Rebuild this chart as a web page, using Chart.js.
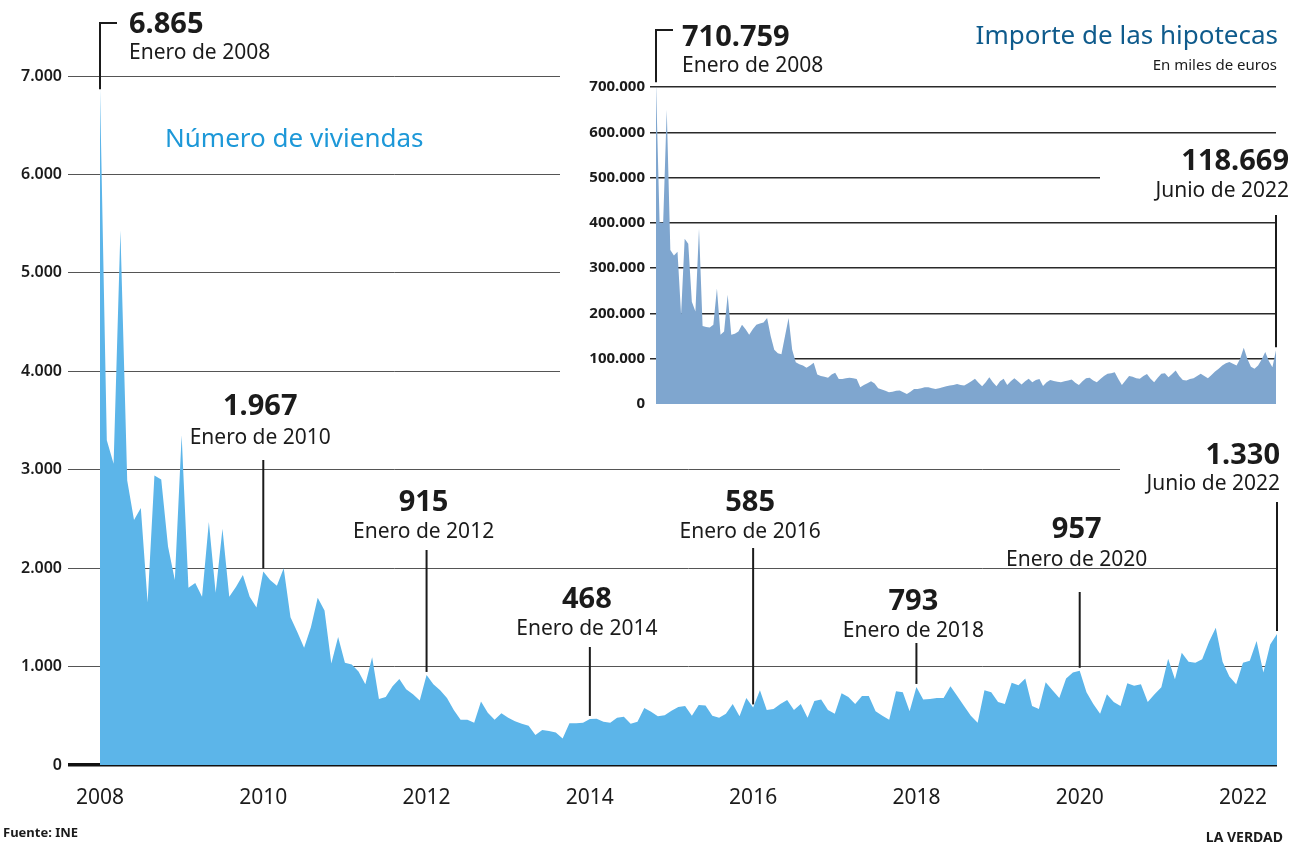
<!DOCTYPE html>
<html lang="es">
<head>
<meta charset="utf-8">
<title>Hipotecas sobre viviendas</title>
<script src="https://cdn.jsdelivr.net/npm/chart.js@4.4.1/dist/chart.umd.min.js"></script>
<style>
  html, body { margin: 0; padding: 0; background: #fff; }
  #wrap { position: relative; width: 1304px; height: 848px; overflow: hidden; }
  #mainChart { position: absolute; left: 0; top: 0; }
  #insetChart { position: absolute; left: 560px; top: 0; background: #fff; }
</style>
</head>
<body>
<div id="wrap">
  <canvas id="mainChart" width="1304" height="848"></canvas>
  <canvas id="insetChart" width="744" height="440"></canvas>
</div>
<script>
// Numero de hipotecas sobre viviendas, enero 2008 - junio 2022 (mensual)
const viviendas = [
  6865, 3300, 3060, 5430, 2890, 2490, 2610, 1650, 2940, 2900, 2220, 1880,
  3350, 1800, 1850, 1710, 2470, 1750, 2400, 1710, 1810, 1930, 1710, 1600,
  1967, 1880, 1820, 2000, 1500, 1350, 1190, 1400, 1700, 1570, 1030, 1300,
  1040, 1020, 950, 820, 1095, 670, 690, 800, 875, 770, 720, 655,
  915, 820, 760, 680, 560, 460, 460, 430, 645, 530, 460, 525,
  480, 445, 420, 400, 305, 355, 345, 330, 270, 425, 425, 430,
  468, 470, 440, 430, 480, 490, 420, 440, 580, 540, 495, 505,
  550, 590, 600, 500, 610, 605, 500, 480, 520, 620, 495, 680,
  585, 760, 560, 570, 620, 660, 560, 620, 480, 650, 665, 560,
  520, 730, 690, 620, 700, 700, 545, 500, 460, 750, 740, 545,
  793, 665, 670, 680, 680, 800, 700, 600, 500, 430, 760, 740,
  640, 620, 835, 810, 880, 600, 570, 840, 760, 680, 880, 940,
  957, 740, 620, 520, 720, 640, 600, 830, 805, 820, 640, 720,
  790, 1080, 870, 1140, 1050, 1040, 1075, 1250, 1395, 1050, 900, 820,
  1040, 1060, 1260, 940, 1225, 1330
];

// Importe de las hipotecas, en miles de euros
const importe = [
  710759, 401000, 400000, 650000, 340000, 328000, 336000, 197000, 365000, 354000, 226000, 204000,
  387000, 172000, 170000, 169000, 175000, 255000, 153000, 160000, 241000, 153000, 155000, 160000,
  175000, 165000, 153000, 165000, 175000, 178000, 180000, 190000, 150000, 120000, 112000, 110000,
  150000, 190000, 120000, 92000, 88000, 85000, 80000, 85000, 91000, 65000, 62000, 60000,
  58000, 65000, 69000, 55000, 55000, 57000, 58000, 57000, 55000, 37000, 42000, 46000,
  50000, 45000, 35000, 32000, 29000, 26000, 27000, 29000, 30000, 26000, 22000, 27000,
  33000, 33000, 35000, 37000, 37000, 35000, 33000, 35000, 37000, 39000, 41000, 42000,
  44000, 42000, 41000, 45000, 50000, 56000, 47000, 39000, 48000, 59000, 48000, 39000,
  50000, 56000, 42000, 50000, 57000, 50000, 43000, 50000, 56000, 48000, 53000, 55000,
  40000, 48000, 53000, 51000, 49000, 48000, 50000, 52000, 54000, 47000, 42000, 50000,
  57000, 58000, 52000, 48000, 55000, 62000, 67000, 68000, 70000, 55000, 42000, 52000,
  62000, 60000, 57000, 56000, 62000, 66000, 56000, 48000, 58000, 67000, 68000, 59000,
  66000, 74000, 62000, 53000, 52000, 55000, 57000, 62000, 67000, 62000, 57000, 64000,
  72000, 78000, 85000, 90000, 93000, 89000, 85000, 100000, 124000, 100000, 82000, 78000,
  85000, 98000, 115000, 95000, 81000, 118669
];

const monthNames = ["Enero", "Febrero", "Marzo", "Abril", "Mayo", "Junio", "Julio",
  "Agosto", "Septiembre", "Octubre", "Noviembre", "Diciembre"];
const firstYear = 2008;
const yearTickMonths = [0, 24, 48, 72, 96, 120, 144, 168];
const yearLabels = ["2008", "2010", "2012", "2014", "2016", "2018", "2020", "2022"];

// months that carry a callout
const mainNoteMonths = [0, 24, 48, 72, 96, 120, 144, 173];
const insetNoteMonths = [0, 173];

// callout layout (pixels), one entry per note
const mainNoteStyle = [
  { kind: "bracket", hookY: 23, numY: 25, dateY: 53 },
  { kind: "center", lineTop: 460, numY: 407, dateY: 438 },
  { kind: "center", lineTop: 550, numY: 503, dateY: 532 },
  { kind: "center", lineTop: 647, numY: 600, dateY: 629 },
  { kind: "center", lineTop: 548, numY: 503, dateY: 532 },
  { kind: "center", lineTop: 643, numY: 602, dateY: 631 },
  { kind: "center", lineTop: 592, numY: 530, dateY: 560 },
  { kind: "right", lineTop: 502, numY: 456, dateY: 484, dx: 3, box: [1120, 440, 1304, 497] },
];
const insetNoteStyle = [
  { kind: "bracket", hookY: 30, numY: 38, dateY: 66, textDx: 26 },
  { kind: "right", lineTop: 215, numY: 162, dateY: 191, dx: 13, box: [540, 146, 744, 205] },
];

const FONT = "'Noto Sans', 'Open Sans', sans-serif";
const INK = "#1b1b1b";

function fmt(n) {
  return String(Math.round(n)).replace(/\B(?=(\d{3})+(?!\d))/g, ".");
}

function dateLabel(m) {
  return monthNames[m % 12] + " de " + (firstYear + Math.floor(m / 12));
}

// draws the value callouts (number + date + leader line)
function drawNotes(chart, months, styles, values) {
  const { ctx } = chart;
  const x = chart.scales.x;
  const y = chart.scales.y;
  months.forEach((m, i) => {
    const s = styles[i];
    const px = x.getPixelForValue(m);
    const py = y.getPixelForValue(values[m]);
    ctx.save();
    if (s.box) {
      ctx.fillStyle = "#fff";
      ctx.fillRect(s.box[0], s.box[1], s.box[2] - s.box[0], s.box[3] - s.box[1]);
    }
    ctx.strokeStyle = INK;
    ctx.lineWidth = 2;
    ctx.beginPath();
    let tx, align;
    if (s.kind === "bracket") {
      ctx.moveTo(px, py);
      ctx.lineTo(px, s.hookY);
      ctx.lineTo(px + 17, s.hookY);
      tx = px + (s.textDx || 29);
      align = "left";
    } else if (s.kind === "center") {
      ctx.moveTo(px, s.lineTop);
      ctx.lineTo(px, py - 3);
      tx = px - 3;
      align = "center";
    } else {
      ctx.moveTo(px, s.lineTop);
      ctx.lineTo(px, py - 3);
      tx = px + s.dx;
      align = "right";
    }
    ctx.stroke();
    ctx.fillStyle = INK;
    ctx.textAlign = align;
    ctx.textBaseline = "middle";
    ctx.font = "bold 29px " + FONT;
    ctx.fillText(fmt(values[m]), tx, s.numY);
    ctx.font = "21px " + FONT;
    ctx.fillText(dateLabel(m), tx, s.dateY);
    ctx.restore();
  });
}

const mainPlugin = {
  id: "mainText",
  afterDraw(chart) {
    drawNotes(chart, mainNoteMonths, mainNoteStyle, viviendas);
    const ctx = chart.ctx;
    ctx.save();
    ctx.textBaseline = "middle";
    ctx.fillStyle = "#1d98d8";
    ctx.font = "26px " + FONT;
    ctx.textAlign = "left";
    ctx.fillText("Número de viviendas", 165, 140);
    ctx.fillStyle = INK;
    ctx.font = "bold 13px " + FONT;
    ctx.fillText("Fuente: INE", 3, 833);
    ctx.textAlign = "right";
    ctx.font = "bold 14px " + FONT;
    ctx.fillText("LA VERDAD", 1283, 838);
    ctx.restore();
  },
};

const insetPlugin = {
  id: "insetText",
  afterDraw(chart) {
    drawNotes(chart, insetNoteMonths, insetNoteStyle, importe);
    const ctx = chart.ctx;
    ctx.save();
    ctx.textBaseline = "middle";
    ctx.textAlign = "right";
    ctx.fillStyle = "#0f5b8c";
    ctx.font = "26px " + FONT;
    ctx.fillText("Importe de las hipotecas", 718, 37);
    ctx.fillStyle = INK;
    ctx.font = "15px " + FONT;
    ctx.fillText("En miles de euros", 717, 66);
    ctx.restore();
  },
};

const monthIndex = viviendas.map((_, i) => i);

new Chart(document.getElementById("mainChart"), {
  type: "line",
  data: {
    datasets: [{
      data: monthIndex.map((m) => ({ x: m, y: viviendas[m] })),
      fill: "origin",
      backgroundColor: "#5cb5e9",
      borderWidth: 0,
      borderColor: "rgba(0,0,0,0)",
      pointRadius: 0,
      tension: 0,
    }],
  },
  options: {
    responsive: false,
    animation: false,
    devicePixelRatio: 1,
    layout: { padding: { top: 76, right: 27, bottom: 0, left: 0 } },
    plugins: { legend: { display: false }, tooltip: { enabled: false } },
    scales: {
      x: {
        type: "linear",
        min: 0,
        max: viviendas.length - 1,
        afterBuildTicks: (scale) => {
          scale.ticks = yearTickMonths.map((v) => ({ value: v }));
        },
        afterFit: (scale) => { scale.height = 83; },
        grid: { display: false, drawTicks: false },
        border: { display: false },
        ticks: {
          autoSkip: false,
          maxRotation: 0,
          padding: 20,
          color: INK,
          font: { family: FONT, size: 21 },
          callback: (v) => yearLabels[yearTickMonths.indexOf(v)],
        },
      },
      y: {
        min: 0,
        max: 7000,
        z: 1,
        afterFit: (scale) => { scale.width = 100; },
        border: { display: false },
        grid: {
          color: (c) => (c.tick && c.tick.value === 0 ? "#111" : "#555"),
          lineWidth: (c) => (c.tick && c.tick.value === 0 ? 3.5 : 1),
          tickLength: 32,
        },
        ticks: {
          stepSize: 1000,
          padding: 6,
          color: INK,
          font: { family: FONT, size: 16, weight: "600" },
          callback: (v) => fmt(v),
        },
      },
    },
  },
  plugins: [mainPlugin],
});

new Chart(document.getElementById("insetChart"), {
  type: "line",
  data: {
    datasets: [{
      data: monthIndex.map((m) => ({ x: m, y: importe[m] })),
      fill: "origin",
      backgroundColor: "#7fa6cf",
      borderWidth: 0,
      borderColor: "rgba(0,0,0,0)",
      pointRadius: 0,
      tension: 0,
      clip: false,
    }],
  },
  options: {
    responsive: false,
    animation: false,
    devicePixelRatio: 1,
    layout: { padding: { top: 87, right: 28, bottom: 36, left: 0 } },
    plugins: { legend: { display: false }, tooltip: { enabled: false } },
    scales: {
      x: {
        type: "linear",
        min: 0,
        max: importe.length - 1,
        display: false,
      },
      y: {
        min: 0,
        max: 700000,
        z: 1,
        afterFit: (scale) => { scale.width = 96; },
        border: { display: false },
        grid: {
          color: (c) => (c.tick && c.tick.value === 0 ? "rgba(0,0,0,0)" : "#2a2a2a"),
          lineWidth: 1.5,
          tickLength: 6,
        },
        ticks: {
          stepSize: 100000,
          padding: 5,
          color: INK,
          font: { family: FONT, size: 15, weight: "bold" },
          callback: (v) => fmt(v),
        },
      },
    },
  },
  plugins: [insetPlugin],
});
</script>
</body>
</html>
